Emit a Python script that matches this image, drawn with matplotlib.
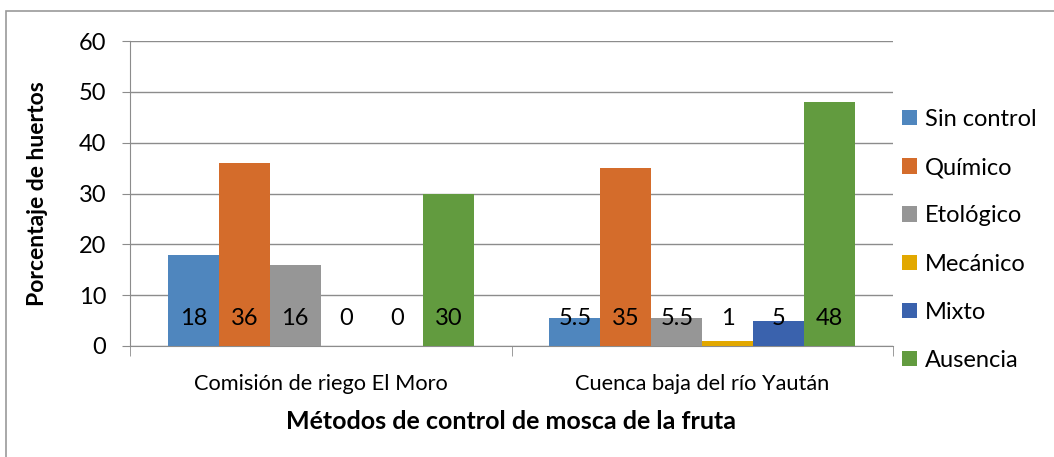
import numpy as np
import matplotlib.pyplot as plt
from matplotlib.patches import Rectangle

plt.rcParams['font.family'] = ['Lato', 'DejaVu Sans']

sitios = ['Comisión de riego El Moro', 'Cuenca baja del río Yaután']
metodos = ['Sin control', 'Químico', 'Etológico', 'Mecánico', 'Mixto', 'Ausencia']
valores = [
    [18, 5.5],
    [36, 35],
    [16, 5.5],
    [0, 1],
    [0, 5],
    [30, 48],
]
colores = ['#4f86be', '#d46c2b', '#969696', '#e2a800', '#3a62ad', '#629b3f']
etiquetas_y = [0, 10, 20, 30, 40, 50, 60]

W, H = 1054, 457
fig = plt.figure(figsize=(W / 100, H / 100), dpi=100)

# marco exterior del grafico
fig.patches.append(Rectangle((6 / W, -0.1), 1.2, (H - 11) / H + 0.1,
                             transform=fig.transFigure, fill=False,
                             edgecolor='#9a9a9a', linewidth=1.2))

ax = fig.add_axes([130 / W, 111 / H, 763 / W, 305 / H])

n = len(metodos)
ancho = 51 / 381.5
x = np.arange(len(sitios))
for i, (nombre, vals, color) in enumerate(zip(metodos, valores, colores)):
    pos = x + (i - (n - 1) / 2) * ancho
    ax.bar(pos, vals, width=ancho, color=color, label=nombre, zorder=3)
    for px, v in zip(pos, vals):
        ax.annotate(f'{v:g}', (px, 0), xytext=(0, 19.5), textcoords='offset points',
                    ha='center', va='center', fontsize=17, color='black', zorder=4)

ax.set_xlim(-0.5, 1.5)
ax.set_ylim(0, 60)
ax.set_yticks(etiquetas_y)
ax.yaxis.grid(True, color='#8c8c8c', linewidth=1, zorder=0)
ax.tick_params(axis='y', length=6, color='#8c8c8c', labelsize=17, pad=11)

ax.set_xticks(x)
ax.set_xticklabels(sitios, fontsize=15.7)
ax.set_xticks([-0.5, 0.5, 1.5], minor=True)
ax.tick_params(axis='x', which='major', length=0, pad=20)
ax.tick_params(axis='x', which='minor', length=7, color='#8c8c8c')

for lado in ['top', 'right']:
    ax.spines[lado].set_visible(False)
ax.spines['left'].set_color('#8c8c8c')
ax.spines['bottom'].set_color('#8c8c8c')

ax.set_ylabel('Porcentaje de huertos', fontsize=16.5, fontweight='bold')
ax.yaxis.set_label_coords(-0.108, 0.5)
ax.set_xlabel('Métodos de control de mosca de la fruta', fontsize=18,
              fontweight='bold')
ax.xaxis.set_label_coords(0.5, -0.21)

ax.legend(loc='upper left', bbox_to_anchor=(895 / W, (H - 102) / H),
          bbox_transform=fig.transFigure, frameon=False,
          fontsize=17, handlelength=0.62, handleheight=0.62, handletextpad=0.35,
          labelspacing=1.15, borderaxespad=0, borderpad=0.3)

fig.savefig('out.png', dpi=100)
